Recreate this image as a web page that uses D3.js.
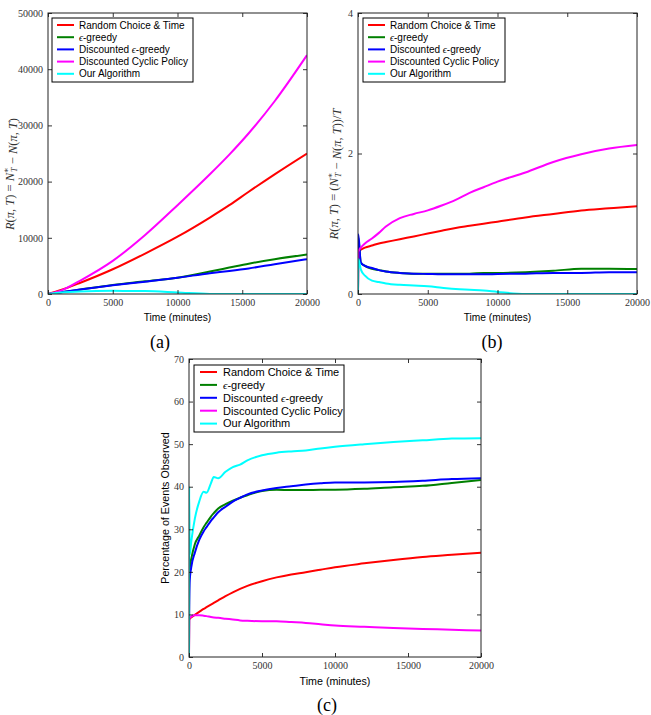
<!DOCTYPE html>
<html><head><meta charset="utf-8">
<script src="https://cdn.jsdelivr.net/npm/d3@7/dist/d3.min.js"></script>
<style>body{margin:0;background:#fff}</style>
</head><body>
<svg id="chart" width="651" height="715"></svg>
<script>
// ---------- data ----------
const seriesNames = ["Random Choice & Time", "ϵ-greedy", "Discounted ϵ-greedy", "Discounted Cyclic Policy", "Our Algorithm"];
const xTicks = [0, 5000, 10000, 15000, 20000];

// Panel (a): cumulative regret
const timeA = [0, 1000, 2500, 5000, 7500, 10000, 12500, 14000, 15500, 17500, 20000];
const redA = [0, 700, 2000, 4400, 7200, 10200, 13600, 15800, 18200, 21300, 25000];
const greenA = [0, 300, 800, 1600, 2250, 2900, 4000, 4700, 5400, 6200, 7050];
const blueA = [0, 300, 800, 1550, 2200, 2900, 3700, 4100, 4550, 5300, 6200];
const magentaA = [0, 600, 2400, 5900, 10500, 15800, 21300, 24800, 28600, 34300, 42500];
const cyanA = [0, 250, 450, 560, 520, 280, 20, 0, 0, 0, 0];
const yTicksA = [0, 10000, 20000, 30000, 40000, 50000];

// Panel (b): regret / T
const timeB = [0, 20, 200, 500, 1000, 1500, 2000, 3000, 4000, 5000, 6000, 7000, 8000, 9000, 10000, 12000, 14000, 16000, 18000, 20000];
const redB = [0, 0.60, 0.63, 0.66, 0.69, 0.72, 0.74, 0.78, 0.82, 0.86, 0.90, 0.94, 0.97, 1.00, 1.03, 1.09, 1.14, 1.19, 1.22, 1.25];
const greenB = [0, 0.80, 0.45, 0.40, 0.36, 0.34, 0.32, 0.30, 0.29, 0.29, 0.29, 0.29, 0.29, 0.30, 0.30, 0.31, 0.33, 0.36, 0.36, 0.355];
const blueB = [0, 0.85, 0.45, 0.40, 0.37, 0.34, 0.32, 0.30, 0.29, 0.285, 0.28, 0.28, 0.28, 0.28, 0.285, 0.29, 0.30, 0.30, 0.31, 0.31];
const magentaB = [0, 0.60, 0.66, 0.72, 0.79, 0.87, 0.96, 1.08, 1.14, 1.19, 1.26, 1.34, 1.44, 1.52, 1.60, 1.73, 1.88, 1.99, 2.07, 2.12];
const cyanB = [0, 0.50, 0.35, 0.26, 0.19, 0.17, 0.15, 0.13, 0.12, 0.11, 0.09, 0.07, 0.06, 0.05, 0.03, 0, 0, 0, 0, 0];
const yTicksB = [0, 2, 4];

// Panel (c): percentage of events observed
const timeC = [0, 10, 50, 150, 400, 700, 1000, 1200, 1500, 1700, 2000, 2500, 3000, 3500, 4000, 5000, 6000, 7000, 8000, 9000, 10000, 12000, 14000, 16000, 18000, 20000];
const redC = [0, 8.7, 9.0, 9.3, 9.9, 10.6, 11.3, 11.7, 12.3, 12.7, 13.3, 14.3, 15.2, 16.0, 16.7, 17.8, 18.7, 19.4, 19.9, 20.5, 21.1, 22.0, 22.8, 23.5, 24.0, 24.5];
const greenC = [0, 20, 21, 23, 26.5, 28.5, 30.5, 31.5, 33, 33.8, 34.9, 35.9, 36.7, 37.4, 38.0, 39.0, 39.3, 39.2, 39.2, 39.3, 39.3, 39.5, 39.9, 40.2, 40.9, 41.6];
const blueC = [0, 10, 18, 21, 24.5, 27.5, 29.5, 30.5, 32, 32.8, 34, 35.3, 36.5, 37.4, 38.2, 39.1, 39.7, 40.1, 40.5, 40.8, 41.0, 41.0, 41.1, 41.4, 41.8, 42.0];
const magentaC = [0, 8.7, 9.2, 9.5, 9.8, 9.8, 9.7, 9.6, 9.4, 9.3, 9.2, 9.0, 8.8, 8.6, 8.5, 8.4, 8.4, 8.2, 8.0, 7.7, 7.4, 7.1, 6.8, 6.6, 6.4, 6.2];
const cyanC = [0, 40, 24, 27, 32.5, 36.5, 38.8, 38.6, 40.8, 42.3, 42.0, 43.5, 44.6, 45.2, 46.2, 47.4, 48.0, 48.3, 48.5, 49.0, 49.4, 50.0, 50.5, 50.9, 51.3, 51.4];
const yTicksC = [0, 10, 20, 30, 40, 50, 60, 70];

// ---------- styling ----------
const colors = ["#ff0000", "#008000", "#0000ff", "#ff00ff", "#00ffff"];
const drawOrder = [0, 1, 2, 3, 4];
const SERIF = "'Liberation Serif', 'DejaVu Serif', serif";
const SANS = "'Liberation Sans', Arial, sans-serif";

const I = s => [s, true], U = s => [s, false];
const panels = [
  { box: [48, 13, 307, 294], yMax: 50000, yTicks: yTicksA, T: timeA,
    data: [redA, greenA, blueA, magentaA, cyanA],
    legend: { x: 52, y: 18, w: 141, h: 64, row: 12.2, font: 10, lx0: 5, lx1: 22, tx: 27 },
    ylab: { x: 14, y: 174, size: 12.5, parts: [I("R"), U("("), I("π"), U(", "), I("T"), U(") = "), I("N"), ["sup", "∗"], ["sub", "T"], U(" − "), I("N"), U("("), I("π"), U(", "), I("T"), U(")")] },
    xlabY: 321, xlabSize: 10.2, caption: "(a)", cap: [160, 348] },
  { box: [358, 13, 637, 294], yMax: 4, yTicks: yTicksB, T: timeB,
    data: [redB, greenB, blueB, magentaB, cyanB],
    legend: { x: 363, y: 18, w: 142, h: 64, row: 12.2, font: 10, lx0: 5, lx1: 22, tx: 27 },
    ylab: { x: 338, y: 174, size: 12.5, parts: [I("R"), U("("), I("π"), U(", "), I("T"), U(") = ("), I("N"), ["sup", "∗"], ["sub", "T"], U(" − "), I("N"), U("("), I("π"), U(", "), I("T"), U("))/"), I("T")] },
    xlabY: 321, xlabSize: 10.2, caption: "(b)", cap: [492, 348] },
  { box: [189, 359, 481, 657], yMax: 70, yTicks: yTicksC, T: timeC,
    data: [redC, greenC, blueC, magentaC, cyanC],
    legend: { x: 194, y: 365, w: 150, h: 67, row: 12.9, font: 11, lx0: 6, lx1: 23, tx: 29 },
    ylab: { x: 169, y: 508, size: 10.7, sans: true, parts: [U("Percentage of Events Observed")] },
    xlabY: 685, xlabSize: 10.7, caption: "(c)", cap: [327, 711] }
];

const svg = d3.select("#chart");
svg.append("rect").attr("width", 651).attr("height", 715).attr("fill", "#fff");

function addRich(textSel, parts, size) {
  parts.forEach(p => {
    if (p[0] === "sup") {
      textSel.append("tspan").attr("dy", -5).attr("font-size", size * 0.65).text(p[1]);
    } else if (p[0] === "sub") {
      textSel.append("tspan").attr("dx", -4.5).attr("dy", 8).attr("font-size", size * 0.65).attr("font-style", "italic").text(p[1]);
      textSel.append("tspan").attr("dy", -3).text("");
    } else {
      textSel.append("tspan").attr("font-style", p[1] ? "italic" : "normal").text(p[0]);
    }
  });
}

panels.forEach(p => {
  const [x0, y0, x1, y1] = p.box;
  const x = d3.scaleLinear().domain([0, 20000]).range([x0, x1]);
  const y = d3.scaleLinear().domain([0, p.yMax]).range([y1, y0]);
  const g = svg.append("g");

  // lines
  const clip = "clip" + p.caption.replace(/[()]/g, "");
  svg.append("clipPath").attr("id", clip).append("rect")
    .attr("x", x0).attr("y", y0 - 1).attr("width", x1 - x0).attr("height", y1 - y0 + 1);
  const line = d3.line().x(d => x(d[0])).y(d => y(d[1])).curve(d3.curveMonotoneX);
  const lg = g.append("g").attr("clip-path", `url(#${clip})`);
  drawOrder.forEach(i => {
    const pts = p.T.map((t, k) => [t, p.data[i][k]]);
    lg.append("path").attr("d", line(pts)).attr("fill", "none")
      .attr("stroke", colors[i]).attr("stroke-width", 2).attr("stroke-linejoin", "round");
  });

  // axes (ticks inward on all sides)
  const styleAxis = a => {
    a.select(".domain").remove();
    a.selectAll(".tick line").attr("stroke", "#000").attr("stroke-width", 0.8);
    a.selectAll(".tick text").attr("font-family", SERIF).attr("font-size", 10).attr("fill", "#333");
  };
  g.append("g").attr("transform", `translate(0,${y1})`)
    .call(d3.axisBottom(x).tickValues(xTicks).tickSize(-4).tickPadding(5).tickFormat(d3.format("d"))).call(styleAxis);
  g.append("g").attr("transform", `translate(0,${y0})`)
    .call(d3.axisTop(x).tickValues(xTicks).tickSize(-4).tickFormat("")).call(styleAxis);
  g.append("g").attr("transform", `translate(${x0},0)`)
    .call(d3.axisLeft(y).tickValues(p.yTicks).tickSize(-4).tickPadding(5).tickFormat(d3.format("d"))).call(styleAxis);
  g.append("g").attr("transform", `translate(${x1},0)`)
    .call(d3.axisRight(y).tickValues(p.yTicks).tickSize(-4).tickFormat("")).call(styleAxis);

  g.append("rect").attr("x", x0).attr("y", y0).attr("width", x1 - x0).attr("height", y1 - y0)
    .attr("fill", "none").attr("stroke", "#222").attr("stroke-width", 1);

  // legend
  const L = p.legend;
  const leg = g.append("g");
  leg.append("rect").attr("x", L.x).attr("y", L.y).attr("width", L.w).attr("height", L.h)
    .attr("fill", "#fff").attr("stroke", "#000").attr("stroke-width", 1);
  seriesNames.forEach((name, i) => {
    const cy = L.y + 7 + i * L.row;
    leg.append("line").attr("x1", L.x + L.lx0).attr("x2", L.x + L.lx1).attr("y1", cy).attr("y2", cy)
      .attr("stroke", colors[i]).attr("stroke-width", 2);
    const t = leg.append("text").attr("x", L.x + L.tx).attr("y", cy).attr("dy", "0.35em")
      .attr("font-family", SANS).attr("font-size", L.font).attr("fill", "#000");
    name.split(/(ϵ)/).forEach(s => {
      if (!s) return;
      if (s === "ϵ") t.append("tspan").attr("font-family", SERIF).attr("font-style", "italic").text(s);
      else t.append("tspan").text(s);
    });
  });

  // x label
  g.append("text").attr("x", (x0 + x1) / 2).attr("y", p.xlabY).attr("text-anchor", "middle")
    .attr("font-family", SANS).attr("font-size", p.xlabSize).attr("fill", "#000").text("Time (minutes)");

  // y label
  const yl = g.append("text").attr("transform", `translate(${p.ylab.x},${p.ylab.y}) rotate(-90)`)
    .attr("text-anchor", "middle").attr("font-family", p.ylab.sans ? SANS : SERIF)
    .attr("font-size", p.ylab.size).attr("fill", p.ylab.sans ? "#000" : "#333")
    .attr("xml:space", "preserve").style("white-space", "pre");
  addRich(yl, p.ylab.parts, p.ylab.size);

  // caption
  g.append("text").attr("x", p.cap[0]).attr("y", p.cap[1]).attr("text-anchor", "middle")
    .attr("font-family", SERIF).attr("font-size", 18).attr("fill", "#000").text(p.caption);
});
</script>
</body></html>
